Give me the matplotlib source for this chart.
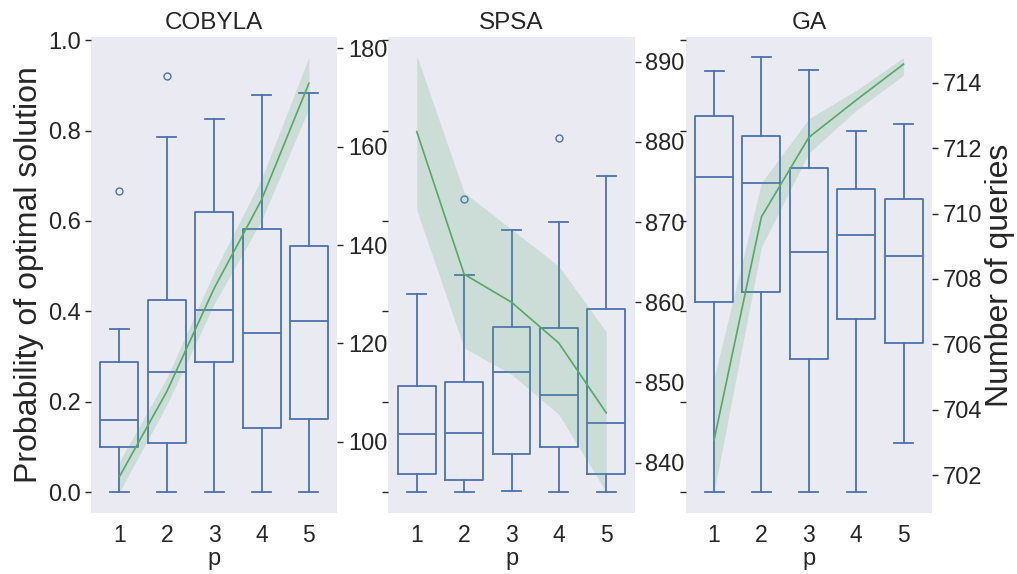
import matplotlib.pyplot as plt

plt.rcParams['font.family'] = ['Liberation Sans', 'DejaVu Sans']
plt.rcParams['text.color'] = '.15'
plt.rcParams['axes.labelcolor'] = '.15'
plt.rcParams['xtick.color'] = '.15'
plt.rcParams['ytick.color'] = '.15'

# x positions (depth p)
p = [1, 2, 3, 4, 5]
titles = ['COBYLA', 'SPSA', 'GA']

# probability of optimal solution -> box statistics per p
cobyla_lo = [0.001, 0.0, 0.0, 0.0, 0.0]
cobyla_q1 = [0.099, 0.109, 0.288, 0.142, 0.161]
cobyla_med = [0.160, 0.267, 0.404, 0.352, 0.378]
cobyla_q3 = [0.288, 0.425, 0.619, 0.583, 0.544]
cobyla_hi = [0.360, 0.786, 0.825, 0.879, 0.884]
cobyla_fliers = [[0.666], [0.921], [], [], []]

spsa_lo = [0.0, 0.0, 0.002, 0.0, 0.0]
spsa_q1 = [0.041, 0.028, 0.085, 0.100, 0.041]
spsa_med = [0.128, 0.130, 0.265, 0.215, 0.153]
spsa_q3 = [0.235, 0.244, 0.366, 0.363, 0.405]
spsa_hi = [0.438, 0.480, 0.580, 0.597, 0.699]
spsa_fliers = [[], [0.648], [], [0.783], []]

ga_lo = [0.0, 0.0, 0.0, 0.001, 0.109]
ga_q1 = [0.421, 0.443, 0.294, 0.384, 0.331]
ga_med = [0.698, 0.684, 0.532, 0.570, 0.522]
ga_q3 = [0.833, 0.788, 0.718, 0.670, 0.648]
ga_hi = [0.932, 0.962, 0.934, 0.799, 0.815]
ga_fliers = [[], [], [], [], []]

# number of queries: mean and confidence band
cobyla_q = [92.9, 110.2, 131.2, 149.2, 172.9]
cobyla_q_lo = [89.8, 107.5, 128.0, 145.0, 167.8]
cobyla_q_hi = [96.0, 113.0, 134.5, 153.5, 178.2]

spsa_q = [881.3, 863.5, 860.0, 854.9, 846.2]
spsa_q_lo = [871.5, 854.3, 851.0, 846.0, 836.3]
spsa_q_hi = [890.8, 873.7, 869.1, 864.5, 856.3]

ga_q = [703.07, 709.9, 712.33, 713.47, 714.57]
ga_q_lo = [701.48, 708.98, 711.85, 713.16, 714.23]
ga_q_hi = [704.97, 710.94, 712.9, 713.77, 714.77]

twin_ylims = [(85.5, 182.3), (833.7, 893.1), (700.84, 715.4)]
twin_ticks = [[100, 120, 140, 160, 180], [840, 850, 860, 870, 880, 890],
              [702, 704, 706, 708, 710, 712, 714]]

box_data = [
    (cobyla_lo, cobyla_q1, cobyla_med, cobyla_q3, cobyla_hi, cobyla_fliers),
    (spsa_lo, spsa_q1, spsa_med, spsa_q3, spsa_hi, spsa_fliers),
    (ga_lo, ga_q1, ga_med, ga_q3, ga_hi, ga_fliers),
]
query_data = [
    (cobyla_q, cobyla_q_lo, cobyla_q_hi),
    (spsa_q, spsa_q_lo, spsa_q_hi),
    (ga_q, ga_q_lo, ga_q_hi),
]

blue = '#4C72B0'
green = '#55A868'

fig, axes = plt.subplots(1, 3, figsize=(10.17, 5.74), dpi=100, sharey=True)
fig.subplots_adjust(left=0.0895, right=0.9164, bottom=0.1063, top=0.9355, wspace=0.207)

for i, ax in enumerate(axes):
    lo, q1, med, q3, hi, fl = box_data[i]
    stats = []
    for j in range(len(p)):
        stats.append({'whislo': lo[j], 'q1': q1[j], 'med': med[j], 'q3': q3[j],
                      'whishi': hi[j], 'fliers': fl[j]})
    line_kw = dict(color=blue, linewidth=1.3)
    ax.bxp(stats, positions=p, widths=0.8,
           boxprops=line_kw, medianprops=line_kw, whiskerprops=line_kw, capprops=line_kw,
           flierprops=dict(marker='o', markerfacecolor='none', markeredgecolor=blue,
                           markersize=5, markeredgewidth=1))
    ax.set_facecolor('#EAEAF2')
    for s in ax.spines.values():
        s.set_visible(False)
    ax.set_xlim(0.4, 5.6)
    ax.set_ylim(-0.046, 1.007)
    ax.set_yticks([0.0, 0.2, 0.4, 0.6, 0.8, 1.0])
    ax.set_xticks(p)
    ax.set_xticklabels([str(v) for v in p])
    ax.tick_params(axis='x', length=0, labelsize=16.5, pad=8)
    ax.tick_params(axis='y', length=4, width=1, labelsize=17)
    ax.set_xlabel('p', fontsize=17, labelpad=1)
    ax.set_title(titles[i], fontsize=17.5, pad=6)
    if i == 0:
        ax.set_ylabel('Probability of optimal solution', fontsize=23, labelpad=3)

    q, qlo, qhi = query_data[i]
    tw = ax.twinx()
    tw.fill_between(p, qlo, qhi, color=green, alpha=0.2, linewidth=0)
    tw.plot(p, q, color=green, linewidth=1.2)
    tw.set_ylim(*twin_ylims[i])
    tw.set_yticks(twin_ticks[i])
    tw.tick_params(axis='y', length=4, width=1, labelsize=17)
    for s in tw.spines.values():
        s.set_visible(False)
    if i == 2:
        tw.set_ylabel('Number of queries', fontsize=23, labelpad=2)

fig.savefig('out.png', dpi=100)
